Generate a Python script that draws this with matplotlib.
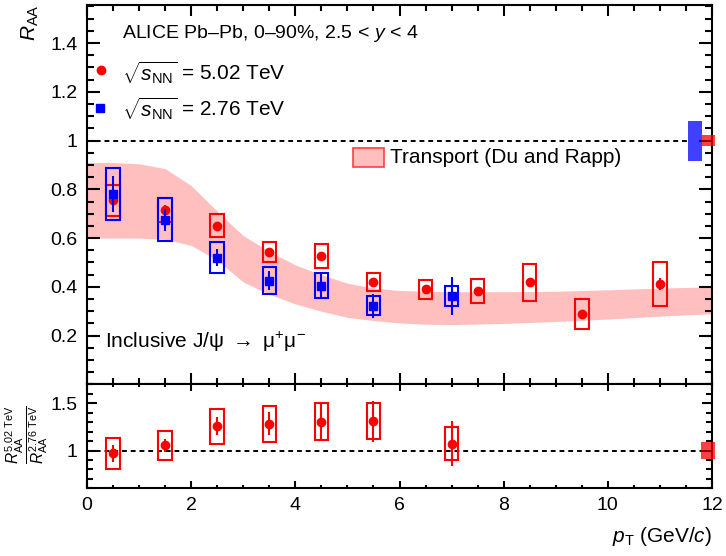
import matplotlib
matplotlib.use("Agg")
import matplotlib.pyplot as plt
from matplotlib.patches import Rectangle
from matplotlib.ticker import MultipleLocator, FixedLocator

plt.rcParams['font.family'] = ['Liberation Sans', 'DejaVu Sans']
plt.rcParams['mathtext.fontset'] = 'custom'
plt.rcParams['mathtext.rm'] = 'Liberation Sans'
plt.rcParams['mathtext.it'] = 'Liberation Sans:italic'
plt.rcParams['mathtext.bf'] = 'Liberation Sans:bold'

# ---- data: sqrt(sNN) = 5.02 TeV ----
pt_502 = [0.5, 1.5, 2.5, 3.5, 4.5, 5.5, 6.5, 7.5, 8.5, 9.5, 11.0]
raa_502 = [0.755, 0.714, 0.65, 0.543, 0.527, 0.42, 0.39, 0.384, 0.418, 0.29, 0.412]
stat_502 = [0.02, 0.02, 0.015, 0.012, 0.012, 0.01, 0.01, 0.01, 0.012, 0.015, 0.024]
sys_502 = [0.063, 0.05, 0.047, 0.041, 0.05, 0.036, 0.04, 0.05, 0.077, 0.062, 0.089]

# ---- data: sqrt(sNN) = 2.76 TeV ----
pt_276 = [0.5, 1.5, 2.5, 3.5, 4.5, 5.5, 7.0]
raa_276 = [0.78, 0.676, 0.52, 0.426, 0.405, 0.322, 0.363]
stat_276 = [0.075, 0.045, 0.036, 0.039, 0.053, 0.05, 0.078]
sys_276 = [0.107, 0.087, 0.065, 0.054, 0.05, 0.039, 0.042]

# ---- ratio 5.02 / 2.76 ----
pt_ratio = [0.5, 1.5, 2.5, 3.5, 4.5, 5.5, 7.0]
ratio = [0.969, 1.056, 1.258, 1.283, 1.307, 1.31, 1.073]
stat_ratio = [0.088, 0.07, 0.093, 0.12, 0.19, 0.215, 0.235]
sys_ratio = [0.163, 0.154, 0.184, 0.188, 0.196, 0.193, 0.175]

# ---- transport model band (Du and Rapp) ----
band_pt = [0, 0.5, 1.0, 1.5, 2.0, 2.5, 3.0, 3.5, 4.0, 4.5, 5.0, 5.5, 6.0, 6.5, 7, 8, 9, 10, 11, 12]
band_hi = [0.91, 0.91, 0.905, 0.885, 0.815, 0.71, 0.61, 0.545, 0.49, 0.45, 0.415, 0.395,
           0.385, 0.382, 0.38, 0.38, 0.382, 0.388, 0.395, 0.40]
band_lo = [0.60, 0.60, 0.60, 0.595, 0.57, 0.51, 0.42, 0.37, 0.33, 0.30, 0.275, 0.262,
           0.252, 0.247, 0.245, 0.25, 0.258, 0.268, 0.28, 0.29]

# global uncertainties
glob_276 = 0.082
glob_502 = 0.024
glob_ratio = 0.087

RED = '#ff0000'
BLUE = '#0000ff'
BOXW = 0.26

W, H = 726, 556
fig = plt.figure(figsize=(W / 100, H / 100), dpi=100)
L, R = 87 / W, 712 / W
top_u, bot_u = 1 - 5 / H, 1 - 384.4 / H
bot_l = 1 - 488.3 / H
ax = fig.add_axes([L, bot_u, R - L, top_u - bot_u])
axr = fig.add_axes([L, bot_l, R - L, bot_u - bot_l], sharex=ax)


def style(a, ymaj, ymin, big=True):
    a.set_xlim(0, 12)
    a.xaxis.set_major_locator(MultipleLocator(2))
    a.xaxis.set_minor_locator(MultipleLocator(0.5))
    a.yaxis.set_major_locator(ymaj)
    a.yaxis.set_minor_locator(MultipleLocator(ymin))
    for s in a.spines.values():
        s.set_linewidth(1.5)
    a.tick_params(which='both', direction='in', top=True, right=True, width=1.5,
                  labelsize=14, colors='black')
    if big:
        a.tick_params(axis='y', which='major', length=9.5, pad=7)
        a.tick_params(axis='y', which='minor', length=5)
        a.tick_params(axis='x', which='major', length=8)
        a.tick_params(axis='x', which='minor', length=4)
    else:
        a.tick_params(axis='y', which='major', length=7.5, pad=7)
        a.tick_params(axis='y', which='minor', length=4)
        a.tick_params(axis='x', which='major', length=5, pad=6)
        a.tick_params(axis='x', which='minor', length=2.5)


def boxes(a, x, y, s, color):
    for xi, yi, si in zip(x, y, s):
        a.add_patch(Rectangle((xi - BOXW / 2, yi - si), BOXW, 2 * si, fill=False,
                              edgecolor=color, linewidth=1.5, zorder=4))


# ---------------- upper panel ----------------
style(ax, FixedLocator([0.2, 0.4, 0.6, 0.8, 1.0, 1.2, 1.4]), 0.05)
ax.set_ylim(0, 1.556)
ax.set_yticklabels(['0.2', '0.4', '0.6', '0.8', '1', '1.2', '1.4'])
ax.tick_params(labelbottom=False)

ax.fill_between(band_pt, band_lo, band_hi, color='#ffbfbf', linewidth=0, zorder=1)
ax.plot([0, 11.54], [1, 1], color='black', lw=1.4, ls=(0, (2.5, 2)), zorder=2)

boxes(ax, pt_502, raa_502, sys_502, RED)
ax.errorbar(pt_502, raa_502, yerr=stat_502, fmt='o', color=RED, ms=6, elinewidth=1.5,
            capsize=0, zorder=5)
boxes(ax, pt_276, raa_276, sys_276, BLUE)
ax.errorbar(pt_276, raa_276, yerr=stat_276, fmt='s', color=BLUE, ms=5.5, elinewidth=1.5,
            capsize=0, zorder=6)

ax.add_patch(Rectangle((11.54, 1 - glob_276), 0.26, 2 * glob_276, color=BLUE, alpha=0.75,
                       linewidth=0, zorder=7))
ax.add_patch(Rectangle((11.8, 1 - glob_502), 0.25, 2 * glob_502, color=RED, alpha=0.75,
                       linewidth=0, zorder=7, clip_on=False))
ax.plot([11.8, 12.0], [1, 1], color='#800000', lw=1.2, zorder=8)

# legend / texts
ax.plot([0.0224], [0.829], 'o', color=RED, ms=6, transform=ax.transAxes)
ax.plot([0.0208], [0.729], 's', color=BLUE, ms=5.5, transform=ax.transAxes)
ax.text(0.056, 0.924, 'ALICE Pb–Pb, 0–90%, 2.5 < $y$ < 4', transform=ax.transAxes,
        fontsize=14, va='center', ha='left')
ax.text(0.056, 0.823, r'$\sqrt{s_{\rm NN}}$ = 5.02 TeV', transform=ax.transAxes,
        fontsize=15, va='center', ha='left')
ax.text(0.056, 0.728, r'$\sqrt{s_{\rm NN}}$ = 2.76 TeV', transform=ax.transAxes,
        fontsize=15, va='center', ha='left')
ax.text(0.0288, 0.112, r'Inclusive J/ψ $\rightarrow$ μ$^{+}$μ$^{-}$', transform=ax.transAxes,
        fontsize=15, va='center', ha='left')
ax.add_patch(Rectangle((0.4256, 0.573), 0.0496, 0.05, transform=ax.transAxes,
                       facecolor='#ffbfbf', edgecolor='#ff4040', linewidth=1.2, zorder=8))
ax.text(0.4848, 0.598, 'Transport (Du and Rapp)', transform=ax.transAxes,
        fontsize=15, va='center', ha='left')

# ---------------- lower panel ----------------
style(axr, FixedLocator([1.0, 1.5]), 0.1, big=False)
axr.set_ylim(0.6, 1.7)
axr.set_yticklabels(['1', '1.5'])
axr.set_xticks([0, 2, 4, 6, 8, 10, 12])
axr.set_xticklabels(['0', '2', '4', '6', '8', '10', '12'])

axr.plot([0, 12], [1, 1], color='black', lw=1.4, ls=(0, (2.5, 2)), zorder=2)
boxes(axr, pt_ratio, ratio, sys_ratio, RED)
axr.errorbar(pt_ratio, ratio, yerr=stat_ratio, fmt='o', color=RED, ms=6, elinewidth=1.5,
             capsize=0, zorder=5)
axr.add_patch(Rectangle((11.79, 1 - glob_ratio), 0.26, 2 * glob_ratio, color=RED,
                        alpha=0.75, linewidth=0, zorder=7, clip_on=False))
axr.plot([11.79, 12.0], [1, 1], color='#800000', lw=1.2, zorder=8)

# axis labels
fig.text(30 / W, 1 - 4 / H, r'$R_{\rm AA}$', rotation=90, ha='center', va='top', fontsize=15)
fig.text(27 / W, 1 - 435 / H,
         r'$\frac{R_{\rm AA}^{5.02\ {\rm TeV}}}{R_{\rm AA}^{2.76\ {\rm TeV}}}$',
         rotation=90, ha='center', va='center', fontsize=16)
fig.text(712 / W, 1 - 537 / H, r'$p_{\rm T}$ (GeV/$c$)', ha='right', va='center', fontsize=15)

fig.savefig('out.png', dpi=100)
